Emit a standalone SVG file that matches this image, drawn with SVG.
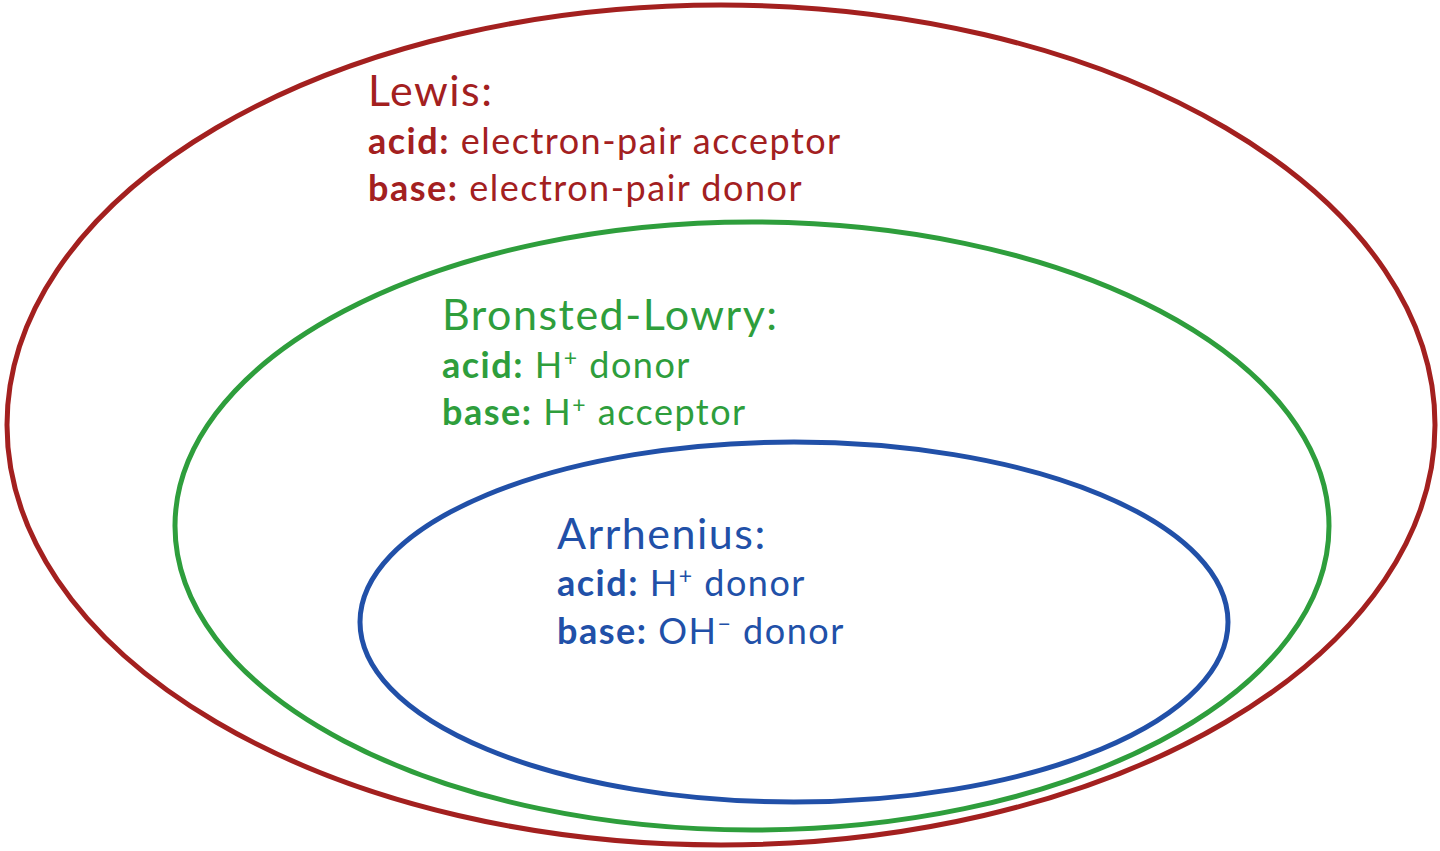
<svg xmlns="http://www.w3.org/2000/svg" width="1440" height="851" viewBox="0 0 1440 851">
<style>
text{font-family:Lato,"Open Sans",sans-serif;font-size:36px;letter-spacing:1.5px}
.t{font-size:43px}
.b{font-weight:bold}
.r{fill:#a3201f}.g{fill:#2e9e3c}.u{fill:#2150a8}
.sup{font-size:23px}
ellipse{fill:none;stroke-width:5}
</style>
<rect width="1440" height="851" fill="#fff"/>
<g id="lewis">
<ellipse cx="721" cy="425" rx="714" ry="420" stroke="#a3201f"/>
<text class="t r" x="368" y="106">Lewis:</text>
<text class="r" x="368" y="154"><tspan class="b">acid:</tspan> electron-pair acceptor</text>
<text class="r" x="368" y="201"><tspan class="b">base:</tspan> electron-pair donor</text>
</g>
<g id="bronsted">
<ellipse cx="752" cy="526" rx="577" ry="304" stroke="#2e9e3c"/>
<text class="t g" x="442" y="330">Bronsted-Lowry:</text>
<text class="g" x="442" y="378"><tspan class="b">acid:</tspan> H<tspan class="sup" dy="-12">+</tspan><tspan dy="12"> donor</tspan></text>
<text class="g" x="442" y="425"><tspan class="b">base:</tspan> H<tspan class="sup" dy="-12">+</tspan><tspan dy="12"> acceptor</tspan></text>
</g>
<g id="arrhenius">
<ellipse cx="794" cy="622" rx="434" ry="180" stroke="#2150a8"/>
<text class="t u" x="557" y="549">Arrhenius:</text>
<text class="u" x="557" y="596"><tspan class="b">acid:</tspan> H<tspan class="sup" dy="-12">+</tspan><tspan dy="12"> donor</tspan></text>
<text class="u" x="557" y="644"><tspan class="b">base:</tspan> OH<tspan class="sup" dy="-12">−</tspan><tspan dy="12"> donor</tspan></text>
</g>
<g id="connectors"/>
</svg>
